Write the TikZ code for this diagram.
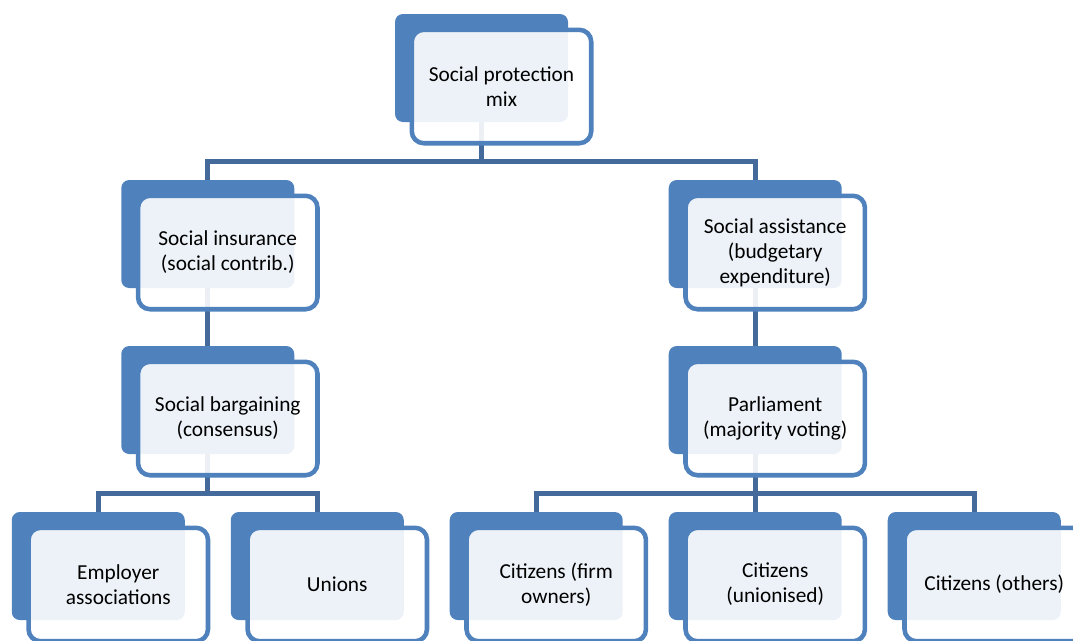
\documentclass[tikz,border=0pt]{standalone}
\usepackage{fontspec}
\setmainfont{Carlito}
\usepackage{tikz}
\usetikzlibrary{trees,calc}
\definecolor{boxblue}{RGB}{79,129,189}
\definecolor{linkblue}{RGB}{68,105,155}
\tikzset{
grow=down,
back/.style={rectangle,rounded corners=6pt,fill=boxblue,inner sep=0pt,
  minimum width=129.75pt,minimum height=81pt},
front/.style={rectangle,rounded corners=9pt,draw=boxblue,line width=3.4pt,
  fill=white,fill opacity=0.9,text opacity=1,align=center,inner sep=0pt,
  minimum width=134.6pt,minimum height=85.1pt,
  font=\fontsize{16pt}{18.8pt}\selectfont},
edge from parent/.style={line width=3.9pt,draw=linkblue},
edge from parent path={
(\tikzparentnode.south) -- ++(0,39) -| (\tikzchildnode.north)},
}

\begin{document}
\begin{tikzpicture}[x=0.75pt,y=-0.75pt,
level 1/.style={sibling distance=410.6pt, level distance=124.5pt},
level 2/.style={sibling distance=164.25pt, level distance=124.5pt},
level 3/.style={sibling distance=164.25pt, level distance=124.5pt},
]
\useasboundingbox (0,0) rectangle (1073,640);
\node[back] (mix) at (481.5,68) {}
child {
  node[back] (ins) {}
  child {
    node[back] (barg) {}
    child {node[back] (emp) {}}
    child {node[back] (uni) {}}
  }
}
child {
  node[back] (asst) {}
  child {
    node[back] (parl) {}
    child {node[back] (firm) {}}
    child {node[back] (unio) {}}
    child {node[back] (oth) {}}
  }
};
% front boxes with the texts
\node[front] (mixT) at ([shift={(20,18.5)}]mix.center) {Social protection\\mix};
\node[front] (insT) at ([shift={(20,18.5)}]ins.center) {Social insurance\\(social contrib.)};
\node[front] (asstT) at ([shift={(20,18.5)}]asst.center) {Social assistance\\(budgetary\\expenditure)};
\node[front] (bargT) at ([shift={(20,18.5)}]barg.center) {Social bargaining\\(consensus)};
\node[front] (parlT) at ([shift={(20,18.5)}]parl.center) {Parliament\\(majority voting)};
\node[front] (empT) at ([shift={(20,18.5)}]emp.center) {Employer\\associations};
\node[front] (uniT) at ([shift={(20,18.5)}]uni.center) {Unions};
\node[front] (firmT) at ([shift={(20,18.5)}]firm.center) {Citizens (firm\\owners)};
\node[front] (unioT) at ([shift={(20,18.5)}]unio.center) {Citizens\\(unionised)};
\node[front] (othT) at ([shift={(20,18.5)}]oth.center) {Citizens (others)};
\end{tikzpicture}
\end{document}
